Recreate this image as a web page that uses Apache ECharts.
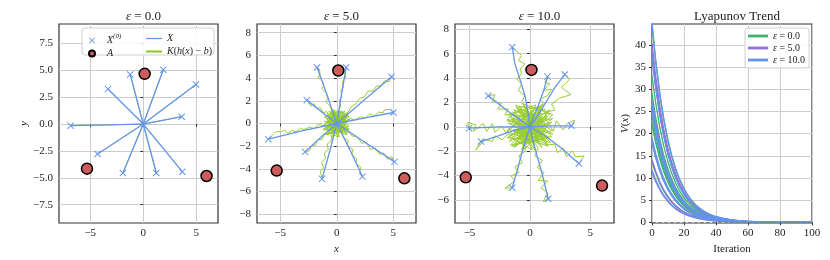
<!DOCTYPE html>
<html><head><meta charset="utf-8">
<script src="https://cdn.jsdelivr.net/npm/echarts@6/dist/echarts.min.js"></script>
<style>html,body{margin:0;padding:0;background:#fff}#c{width:830px;height:260px}</style>
</head><body><div id="c"></div>
<script>
// ---------------- DATA ----------------
const PANEL_EPS = ['0.0', '5.0', '10.0'];
const ANCHORS = [[0.13, 4.67], [-5.31, -4.15], [5.97, -4.83]];

// initial points X^(0) per panel
const X0_EPS0 = [[-6.86,-0.15],[-3.33,3.25],[-1.23,4.61],[1.89,5.05],[4.97,3.68],[3.62,0.68],[3.68,-4.43],[1.23,-4.55],[-1.92,-4.55],[-4.31,-2.79]];
const X0_EPS5 = [[-6.05,-1.38],[-2.65,2.06],[-1.74,4.94],[0.83,4.94],[4.84,4.12],[5.01,0.97],[5.10,-3.38],[2.27,-4.68],[-1.30,-4.88],[-2.80,-2.5]];
const X0_EPS10 = [[-1.46,6.54],[1.46,4.12],[2.89,4.29],[-3.44,2.55],[-5.04,-0.11],[-4.05,-1.21],[3.44,0.08],[4.05,-3.02],[1.52,-5.91],[-1.46,-5.0]];

// trajectories X (blue)
const X_EPS0 = X0_EPS0.map(p => [p, [0, 0]]);
const X_EPS5 = [
  [[-6.05,-1.38],[-3.0,-0.62],[0,0]],
  [[-2.65,2.06],[-1.3,1.0],[0,0]],
  [[-1.74,4.94],[-0.85,2.5],[0,0]],
  [[0.83,4.94],[0.4,2.45],[0,0]],
  [[4.84,4.12],[2.4,2.05],[0,0]],
  [[5.01,0.97],[2.5,0.5],[0,0]],
  [[5.10,-3.38],[2.55,-1.7],[0,0]],
  [[2.27,-4.68],[1.15,-2.3],[0,0]],
  [[-1.30,-4.88],[-0.62,-2.45],[0,0]],
  [[-2.80,-2.5],[-1.4,-1.22],[0,0]]
];
const X_EPS10 = [
  [[-1.46,6.54],[-1.24,5.16],[-0.83,3.93],[-0.41,2.55],[-0.14,1.04],[0,0]],
  [[1.46,4.12],[1.18,3.10],[0.69,1.73],[0.28,0.77],[0,0]],
  [[2.89,4.29],[2.07,3.24],[1.24,1.87],[0.55,0.77],[0,0]],
  [[-3.44,2.55],[-1.79,1.26],[-0.69,0.49],[0,0]],
  [[-5.04,-0.11],[-2.62,0],[0,0]],
  [[-4.05,-1.21],[-2.62,-0.74],[-1.24,-0.27],[0,0]],
  [[3.44,0.08],[1.79,0.08],[0,0]],
  [[4.05,-3.02],[2.62,-1.76],[1.24,-0.74],[0,0]],
  [[1.52,-5.91],[1.02,-3.90],[0.55,-2.25],[0.19,-0.88],[0,0]],
  [[-1.46,-5.0],[-1.10,-3.76],[-0.69,-2.25],[-0.28,-0.88],[0,0]]
];

// trajectories K(h(x)-b) (green): approach part + jitter near the origin
const K_EPS0 = X_EPS0;
const K_EPS5 = [
  [[-6.05,-1.38],[-5.5,-0.85],[-5.3,-0.7],[-4.9,-0.75],[-4.6,-0.55],[-4.3,-0.9],[-3.98,-0.59],[-3.6,-0.75],[-3.2,-0.4],[-2.9,-0.55],[-2.4,-0.3],[-2.0,-0.45],[-1.6,-0.05],[-1.2,-0.2],[-0.8,0.15],[0.5,0.2],[-0.6,-0.3],[0.3,0.7],[-0.2,-0.8],[0.7,-0.3],[0,0]],
  [[-2.65,2.06],[-2.3,1.55],[-2.0,1.75],[-1.75,1.3],[-1.45,1.4],[-1.2,0.95],[-0.9,1.05],[-0.65,0.6],[-0.4,0.7],[-0.7,-0.4],[0.6,0.5],[-0.3,-0.7],[0.8,-0.1],[0,0]],
  [[-1.74,4.94],[-1.45,4.4],[-1.65,4.1],[-1.3,3.85],[-1.15,3.3],[-1.35,3.1],[-0.95,2.7],[-0.8,2.2],[-0.95,1.9],[-0.55,1.5],[-0.45,1.0],[0.6,-0.4],[-0.8,0.3],[0.2,-0.9],[-0.4,0.6],[0,0]],
  [[0.83,4.94],[0.65,4.5],[0.8,4.1],[0.5,3.7],[0.6,3.2],[0.35,2.9],[0.45,2.4],[0.2,2.0],[0.35,1.5],[0.1,1.1],[-0.5,-0.6],[0.8,0.4],[-0.7,0.5],[0.4,-0.8],[0,0]],
  [[4.84,4.12],[4.65,3.7],[4.2,3.75],[3.95,3.35],[3.5,3.3],[3.2,2.85],[2.75,2.85],[2.45,2.35],[2.0,2.2],[1.7,1.75],[1.3,1.5],[1.0,1.0],[0.6,0.75],[-0.6,-0.2],[0.5,-0.7],[-0.3,0.8],[0.9,0.1],[0,0]],
  [[5.01,0.97],[4.75,1.25],[4.2,1.2],[4.1,0.95],[3.7,1.0],[3.3,0.65],[2.9,0.85],[2.5,0.45],[2.1,0.6],[1.6,0.3],[1.2,0.45],[0.7,0.15],[-0.8,0.2],[0.3,-0.8],[-0.4,0.9],[0.6,0.6],[0,0]],
  [[5.10,-3.38],[4.85,-2.9],[4.5,-3.15],[4.15,-2.6],[3.75,-2.7],[3.4,-2.15],[3.0,-2.3],[2.6,-1.65],[2.2,-1.75],[1.8,-1.15],[1.35,-1.1],[0.9,-0.5],[-0.5,0.5],[0.7,0.3],[-0.6,-0.6],[0.2,0.9],[0,0]],
  [[2.27,-4.68],[2.0,-4.2],[2.15,-3.9],[1.7,-3.5],[1.75,-3.1],[1.3,-2.75],[1.45,-2.3],[0.95,-2.0],[1.0,-1.5],[0.55,-1.2],[0.5,-0.7],[-0.7,0.6],[0.9,-0.3],[-0.2,-0.9],[-0.6,0.1],[0,0]],
  [[-1.30,-4.88],[-1.45,-4.2],[-1.15,-3.9],[-1.35,-3.45],[-1.0,-3.1],[-1.1,-2.6],[-0.75,-2.3],[-0.85,-1.8],[-0.45,-1.5],[-0.5,-1.0],[-0.2,-0.6],[0.6,0.7],[-0.9,0.4],[0.5,-0.5],[-0.3,0.9],[0,0]],
  [[-2.80,-2.5],[-2.4,-2.4],[-2.25,-1.95],[-1.85,-1.9],[-1.7,-1.45],[-1.3,-1.4],[-1.1,-0.95],[-0.75,-0.9],[-0.55,-0.45],[0.8,0.6],[-0.4,0.8],[0.7,-0.6],[-0.9,-0.2],[0,0]]
];
const K_EPS5_TAIL = [
  [[1.0,-0.5],[-0.9,0.7],[0.5,1.1],[-1.1,-0.6],[0,0]],
  [[-1.1,0.2],[0.9,-0.9],[-0.3,1.2],[1.1,0.6],[0,0]],
  [[0.7,1.1],[-1.2,-0.2],[0.9,-1.0],[-0.5,0.9],[0,0]],
  [[-0.9,-1.0],[1.1,-0.2],[-0.6,1.0],[0.8,0.9],[0,0]],
  [[0.2,-1.2],[-1.0,0.6],[1.0,0.7],[-0.6,-0.9],[0,0]],
  [[1.2,0.4],[-0.8,-1.0],[0.3,1.1],[-1.1,0.6],[0,0]],
  [[-0.4,-1.2],[1.0,0.9],[-1.2,-0.5],[0.5,-0.7],[0,0]],
  [[0.9,0.6],[-1.0,-0.5],[0.1,-1.2],[-0.8,0.9],[0,0]],
  [[-0.7,1.1],[1.1,-0.8],[-1.1,-0.1],[0.4,0.9],[0,0]],
  [[0.6,0.8],[-1.0,-0.9],[1.1,-0.5],[-0.3,1.1],[0,0]]
];
const K_EPS10 = [
  [[-1.46,6.54],[-0.69,5.85],[-0.96,5.44],[-0.41,5.16],[-0.83,4.75],[-0.69,4.34],[-1.10,3.93],[-0.69,3.52],[-0.96,2.97],[-0.41,2.55],[-0.69,2.01],[-0.28,1.59],[-0.55,1.04],[0,0.63],[0.8,0.3],[-0.9,-0.5],[0.4,1.1],[-0.3,-1.2],[1.2,-0.4],[-0.2,0.1]],
  [[1.46,4.12],[1.24,3.65],[1.65,3.52],[1.10,2.97],[1.79,3.10],[1.46,2.55],[0.83,2.28],[1.24,1.87],[0.69,1.46],[0.91,0.91],[0.36,0.63],[-1.1,0.6],[0.7,-0.9],[-0.4,1.3],[1.0,0.5],[-0.8,-0.2],[0.1,0]],
  [[2.89,4.29],[3.31,3.93],[2.62,3.24],[3.39,2.64],[2.48,2.36],[2.56,2.20],[1.79,1.87],[2.07,1.37],[1.24,1.18],[1.38,0.63],[0.55,0.36],[1.3,0.8],[-0.6,-1.0],[0.2,1.4],[-1.2,0.2],[0.9,-0.7],[0,-0.1]],
  [[-3.44,2.55],[-2.89,2.64],[-3.11,2.09],[-2.34,1.92],[-2.67,1.46],[-1.79,1.46],[-2.07,0.99],[-1.24,0.99],[-1.46,0.44],[-0.55,0.49],[-0.5,-0.8],[1.1,0.9],[-1.3,-0.4],[0.6,-1.3],[-0.2,0.9],[0.1,0.05]],
  [[-5.04,-0.11],[-5.15,0.36],[-4.49,0.16],[-4.68,-0.38],[-3.86,0.27],[-3.58,-0.38],[-3.11,0.27],[-2.89,-0.47],[-2.34,0.08],[-2.01,-0.47],[-1.38,0.16],[-0.83,-0.27],[0.9,-0.2],[-1.4,0.7],[0.5,-1.0],[-0.7,1.2],[1.0,0.6],[-0.1,0]],
  [[-4.05,-1.21],[-4.49,-1.92],[-3.72,-1.02],[-3.11,-1.21],[-2.89,-0.74],[-2.29,-1.07],[-1.79,-0.55],[-1.24,-0.88],[-0.83,-0.38],[-0.9,0.9],[1.2,-0.6],[-0.2,-1.4],[0.7,1.2],[-1.1,-0.7],[0,0.1]],
  [[3.44,0.08],[3.72,0.55],[3.11,0.27],[2.75,-0.27],[2.20,0.49],[1.93,-0.38],[1.52,0.36],[1.18,-0.38],[0.69,0.22],[0.6,0.9],[-1.0,-0.3],[1.4,-0.9],[-0.5,1.0],[0.3,-0.6],[0.05,0]],
  [[4.05,-3.02],[4.49,-2.39],[3.77,-2.47],[3.50,-1.98],[3.03,-2.47],[2.75,-1.76],[2.29,-2.12],[2.07,-1.43],[1.46,-1.48],[1.18,-0.88],[0.63,-0.55],[-1.2,-1.0],[0.8,0.2],[-0.3,1.0],[1.1,-1.2],[-0.6,0.4],[0,0]],
  [[1.52,-5.91],[1.10,-6.15],[1.46,-5.41],[0.91,-5.0],[1.46,-4.45],[0.69,-4.40],[1.18,-3.76],[0.63,-3.35],[1.02,-2.75],[0.41,-2.39],[0.69,-1.70],[0.19,-1.10],[0.3,-1.5],[-0.8,0.6],[1.2,0.4],[-1.0,-1.1],[0.4,1.0],[0,0]],
  [[-1.46,-5.0],[-2.07,-5.05],[-1.24,-4.45],[-1.57,-4.04],[-0.91,-3.76],[-1.24,-3.30],[-0.63,-2.94],[-0.91,-2.39],[-0.36,-1.98],[-0.63,-1.37],[-0.14,-0.88],[-1.4,-0.2],[0.9,-0.8],[-0.1,1.2],[1.3,0.2],[-0.7,-0.9],[0,0]]
];
const K_EPS10_TAIL = [
  [[1.6,-0.9],[-1.5,1.1],[0.9,1.7],[-1.7,-1.2],[1.8,0.4],[-0.4,-1.8],[0,0]],
  [[-1.8,0.3],[1.4,-1.5],[-0.6,1.9],[1.9,1.0],[-1.2,-1.6],[0.3,0.2]],
  [[1.1,1.9],[-1.9,-0.4],[1.5,-1.6],[-0.8,1.5],[0.7,-0.4],[0,0]],
  [[-1.5,-1.6],[1.8,-0.3],[-1.0,1.7],[1.3,1.4],[-1.9,0.5],[0,0]],
  [[0.4,-1.9],[-1.6,0.9],[1.7,1.1],[-0.9,-1.4],[1.2,-1.0],[0,0]],
  [[1.9,0.7],[-1.3,-1.7],[0.5,1.8],[-1.8,1.0],[1.0,-1.7],[0,0]],
  [[-0.7,-1.9],[1.6,1.4],[-1.9,-0.9],[0.8,-1.2],[-1.1,1.6],[0,0]],
  [[1.4,0.9],[-1.7,-0.8],[0.2,-1.9],[-1.3,1.4],[1.9,-0.6],[0,0]],
  [[-1.2,1.8],[1.7,-1.3],[-1.8,-0.2],[0.6,1.5],[1.1,-0.2],[0,0]],
  [[0.9,1.2],[-1.6,-1.5],[1.8,-0.8],[-0.5,1.7],[-1.9,0.6],[0,0]]
];

// Lyapunov trend
const ITER = [0,5,10,15,20,25,30,35,40,50,60,80,100];
const V_EPS0 = [
  [44.5,28.5,18.3,11.7,7.52,4.81,3.10,1.98,1.27,0.53,0.21,0.04,0],
  [38,24.4,15.6,10.0,6.42,4.10,2.64,1.69,1.09,0.45,0.18,0.03,0],
  [33,21.2,13.6,8.71,5.58,3.56,2.30,1.47,0.94,0.39,0.16,0.03,0],
  [29,18.6,11.9,7.66,4.90,3.13,2.02,1.29,0.83,0.34,0.14,0.02,0],
  [26,16.7,10.7,6.86,4.39,2.81,1.81,1.16,0.74,0.31,0.12,0.02,0],
  [24,15.4,9.86,6.34,4.06,2.59,1.67,1.07,0.69,0.28,0.12,0.02,0],
  [22.5,14.4,9.25,5.94,3.80,2.43,1.57,1.00,0.64,0.27,0.11,0.02,0],
  [22,14.1,9.04,5.81,3.72,2.38,1.53,0.98,0.63,0.26,0.11,0.02,0],
  [18,11.5,7.40,4.75,3.04,1.94,1.25,0.80,0.51,0.21,0.09,0.01,0],
  [13.6,8.72,5.59,3.59,2.30,1.47,0.95,0.61,0.39,0.16,0.07,0.01,0]
];
const V_EPS5 = [
  [40.4,25.9,16.6,10.7,6.83,4.36,2.81,1.80,1.16,0.48,0.19,0.03,0],
  [38.5,24.7,15.8,10.2,6.51,4.16,2.68,1.72,1.10,0.45,0.18,0.03,0],
  [37.4,24.0,15.4,9.87,6.32,4.04,2.60,1.67,1.07,0.44,0.18,0.03,0],
  [27.4,17.6,11.3,7.23,4.63,2.96,1.91,1.22,0.78,0.32,0.13,0.02,0],
  [27.1,17.4,11.1,7.15,4.58,2.93,1.89,1.21,0.78,0.32,0.13,0.02,0],
  [26,16.7,10.7,6.86,4.39,2.81,1.81,1.16,0.74,0.31,0.12,0.02,0],
  [25.5,16.3,10.5,6.73,4.31,2.75,1.77,1.14,0.73,0.30,0.12,0.02,0],
  [25.1,16.1,10.3,6.63,4.24,2.71,1.75,1.12,0.72,0.30,0.12,0.02,0],
  [14.1,9.04,5.80,3.72,2.38,1.52,0.98,0.63,0.40,0.17,0.07,0.01,0],
  [11.3,7.24,4.64,2.98,1.91,1.22,0.79,0.50,0.32,0.13,0.05,0.01,0]
];
const V_EPS10 = [
  [44.9,28.8,18.5,11.9,7.59,4.85,3.13,2.00,1.28,0.53,0.22,0.04,0],
  [37.2,23.8,15.3,9.82,6.29,4.02,2.59,1.66,1.06,0.44,0.18,0.03,0],
  [27.1,17.4,11.1,7.15,4.58,2.93,1.89,1.21,0.78,0.32,0.13,0.02,0],
  [26.8,17.2,11.0,7.08,4.53,2.89,1.87,1.20,0.77,0.32,0.13,0.02,0],
  [25.5,16.3,10.5,6.73,4.31,2.75,1.77,1.14,0.73,0.30,0.12,0.02,0],
  [25.4,16.3,10.4,6.71,4.29,2.74,1.77,1.13,0.73,0.30,0.12,0.02,0],
  [19.1,12.2,7.85,5.04,3.23,2.06,1.33,0.85,0.55,0.23,0.09,0.02,0],
  [18.3,11.7,7.52,4.83,3.09,1.98,1.27,0.82,0.52,0.22,0.09,0.01,0],
  [17.9,11.5,7.36,4.73,3.03,1.93,1.25,0.80,0.51,0.21,0.09,0.01,0],
  [11.8,7.56,4.85,3.12,1.99,1.27,0.82,0.53,0.34,0.14,0.06,0.01,0]
];

// tick labels
const XTICKS_SCATTER = [-5, 0, 5];
const YTICKS_P1 = [-7.5, -5, -2.5, 0, 2.5, 5, 7.5];
const YTICKS_P2 = [-8, -6, -4, -2, 0, 2, 4, 6, 8];
const YTICKS_P3 = [-6, -4, -2, 0, 2, 4, 6, 8];
const YTICKS_P4 = [0, 5, 10, 15, 20, 25, 30, 35, 40];

// ---------------- STYLE / LAYOUT ----------------
const FONT = 'Liberation Serif';
const C_BLUE = '#6495ED', C_GREEN = '#9ACD32', C_RED = '#CD5C5C';
const C_E0 = '#3CB371', C_E5 = '#9370DB', C_E10 = '#6495ED';
const CROSS = 'path://M0,1L1,0L5,4L9,0L10,1L6,5L10,9L9,10L5,6L1,10L0,9L4,5Z';
const LINE_ICON = 'path://M0,0H20V1.6H0Z';
const THICK_LINE_ICON = 'path://M0,0H20V2.8H0Z';
const GRIDS = [
  {left: 59, top: 24, width: 159, height: 199},
  {left: 257, top: 24, width: 159, height: 199},
  {left: 455, top: 24, width: 159, height: 199},
  {left: 652, top: 24, width: 160, height: 199}
];
const XR = [[-7.95, 7.05], [-7.05, 7.0], [-6.2, 6.96], [0, 100]];
const YR = [[-9.2, 9.3], [-8.77, 8.77], [-7.9, 8.44], [-0.15, 44.7]];

const minus = v => String(v).replace('-', '\u2212');
const labelBase = {color: '#222', fontFamily: FONT, fontSize: 11};
const gridLine = {show: true, lineStyle: {color: '#cccccc', width: 1}};
const tick = {show: true, length: 3, lineStyle: {color: '#333'}};
const nameStyle = {fontFamily: FONT, fontSize: 11, color: '#222', rich: {it: {fontStyle: 'italic', fontFamily: FONT, fontSize: 11, color: '#222'}}};

function xAxis(i, ticks, name, nameGap) {
  const ax = {
    type: 'value', gridIndex: i, min: XR[i][0], max: XR[i][1],
    axisLine: {show: false}, splitLine: gridLine,
    axisTick: Object.assign({}, tick), axisLabel: Object.assign({margin: 5, formatter: minus}, labelBase),
    name: name || '', nameLocation: 'middle', nameGap: nameGap || 0, nameTextStyle: nameStyle
  };
  if (ticks) { ax.axisTick.customValues = ticks; ax.axisLabel.customValues = ticks; }
  else { ax.interval = 20; }
  return ax;
}
function yAxis(i, ticks, fmt, name, nameGap) {
  return {
    type: 'value', gridIndex: i, min: YR[i][0], max: YR[i][1],
    axisLine: {show: false}, splitLine: gridLine,
    axisTick: Object.assign({customValues: ticks}, tick),
    axisLabel: Object.assign({margin: 6, customValues: ticks, formatter: fmt}, labelBase),
    name: name || '', nameLocation: 'middle', nameGap: nameGap || 0, nameRotate: 90, nameTextStyle: nameStyle
  };
}

const series = [];
function addLine(i, path, name, color, width, z) {
  series.push({type: 'line', name, xAxisIndex: i, yAxisIndex: i, data: path, symbol: 'none', showSymbol: false,
    lineStyle: {color, width}, itemStyle: {color}, z, silent: true});
}
const K5 = K_EPS5.map((p, j) => p.concat(K_EPS5_TAIL[j]));
const K10 = K_EPS10.map((p, j) => p.concat(K_EPS10_TAIL[j]));
[[K_EPS0, X_EPS0, X0_EPS0], [K5, X_EPS5, X0_EPS5], [K10, X_EPS10, X0_EPS10]].forEach(([K, X, X0], i) => {
  K.forEach(p => addLine(i, p, 'K', C_GREEN, 1, 2));
  X.forEach(p => addLine(i, p, 'X', C_BLUE, 1.3, 3));
  series.push({type: 'scatter', name: 'X0', xAxisIndex: i, yAxisIndex: i, data: X0, symbol: CROSS, symbolSize: 7,
    itemStyle: {color: C_BLUE, opacity: 1}, z: 4, silent: true});
  series.push({type: 'scatter', name: 'A', xAxisIndex: i, yAxisIndex: i, data: ANCHORS, symbol: 'circle', symbolSize: 11,
    itemStyle: {color: C_RED, borderColor: '#000', borderWidth: 1.5, opacity: 1}, z: 5, silent: true});
});
const EPS_NAMES = ['\u03b5 = 0.0', '\u03b5 = 5.0', '\u03b5 = 10.0'];
[[V_EPS0, C_E0], [V_EPS5, C_E5], [V_EPS10, C_E10]].forEach(([curves, color], k) => {
  curves.forEach((vals, j) => {
    const s = {type: 'line', name: EPS_NAMES[k], xAxisIndex: 3, yAxisIndex: 3,
      data: vals.map((v, t) => [ITER[t], v]), symbol: 'none', showSymbol: false, smooth: 0.5,
      lineStyle: {color, width: 1.3}, itemStyle: {color}, z: 2, silent: true};
    if (k === 0 && j === 0) {
      s.markLine = {silent: true, symbol: 'none', label: {show: false}, data: [{yAxis: 0}],
        lineStyle: {color: '#808080', type: 'dashed', width: 1}};
    }
    series.push(s);
  });
});

const richLegend = {
  it: {fontStyle: 'italic', fontFamily: FONT, fontSize: 10, color: '#222'},
  sup: {fontStyle: 'italic', fontFamily: FONT, fontSize: 7, color: '#222', verticalAlign: 'bottom', padding: [0, 0, 6, 0]},
  n: {fontFamily: FONT, fontSize: 10, color: '#222'}
};
const legendLabels = {
  'X0': '{it|X}{sup|(0)}',
  'A': '{it|A}',
  'X': '{it|X}',
  'K': '{it|K}{n|(}{it|h}{n|(}{it|x}{n|) \u2212 }{it|b}{n|)}'
};

const option = {
  animation: false,
  backgroundColor: '#fff',
  grid: GRIDS.map(g => Object.assign({show: true, borderColor: '#333', borderWidth: 1.2, backgroundColor: 'transparent', containLabel: false}, g)),
  title: [0, 1, 2].map(i => ({
    text: '{it|\u03b5} = ' + PANEL_EPS[i], left: GRIDS[i].left + GRIDS[i].width / 2, textAlign: 'center', top: 5,
    textStyle: {fontFamily: FONT, fontSize: 13, fontWeight: 'normal', color: '#222',
      rich: {it: {fontStyle: 'italic', fontFamily: FONT, fontSize: 13, color: '#222'}}}
  })).concat([{
    text: 'Lyapunov Trend', left: GRIDS[3].left + GRIDS[3].width / 2, textAlign: 'center', top: 5,
    textStyle: {fontFamily: FONT, fontSize: 13, fontWeight: 'normal', color: '#222'}
  }]),
  xAxis: [
    xAxis(0, XTICKS_SCATTER),
    xAxis(1, XTICKS_SCATTER, '{it|x}', 11),
    xAxis(2, XTICKS_SCATTER),
    xAxis(3, null, 'Iteration', 8)
  ],
  yAxis: [
    yAxis(0, YTICKS_P1, v => minus(v.toFixed(1)), '{it|y}', 17),
    yAxis(1, YTICKS_P2, minus),
    yAxis(2, YTICKS_P3, minus),
    yAxis(3, YTICKS_P4, minus, '{it|V}({it|x})', 11)
  ],
  legend: [
    {data: [{name: 'X0', icon: CROSS}, {name: 'A', icon: 'circle'}], orient: 'vertical', left: 83, top: 28,
      itemWidth: 20, itemHeight: 6, itemGap: 2, selectedMode: false, z: 10,
      formatter: n => legendLabels[n], textStyle: {fontFamily: FONT, fontSize: 10, lineHeight: 11, rich: richLegend}},
    {data: [{name: 'X', icon: LINE_ICON}, {name: 'K', icon: THICK_LINE_ICON}], orient: 'vertical', left: 141, top: 28,
      itemWidth: 16, itemHeight: 6, itemGap: 2, selectedMode: false, z: 10,
      formatter: n => legendLabels[n], textStyle: {fontFamily: FONT, fontSize: 10, lineHeight: 11, rich: richLegend}},
    {data: EPS_NAMES.map(n => ({name: n, icon: THICK_LINE_ICON})), orient: 'vertical', left: 745, top: 28,
      itemWidth: 20, itemHeight: 9, itemGap: 2, selectedMode: false,
      padding: [3, 4, 3, 3], borderColor: '#d0d0d0', borderWidth: 1, borderRadius: 3, backgroundColor: 'rgba(255,255,255,0.85)', z: 10,
      formatter: n => '{it|\u03b5}' + n.slice(1), textStyle: {fontFamily: FONT, fontSize: 10, color: '#222', rich: richLegend}}
  ],
  graphic: [{type: 'rect', z: 8, shape: {x: 82, y: 28, width: 132, height: 27, r: 3},
    style: {fill: 'rgba(255,255,255,0.85)', stroke: '#d0d0d0', lineWidth: 1}}],
  series
};
const chart = echarts.init(document.getElementById('c'), null, {renderer: 'canvas'});
chart.setOption(option);
</script></body></html>
